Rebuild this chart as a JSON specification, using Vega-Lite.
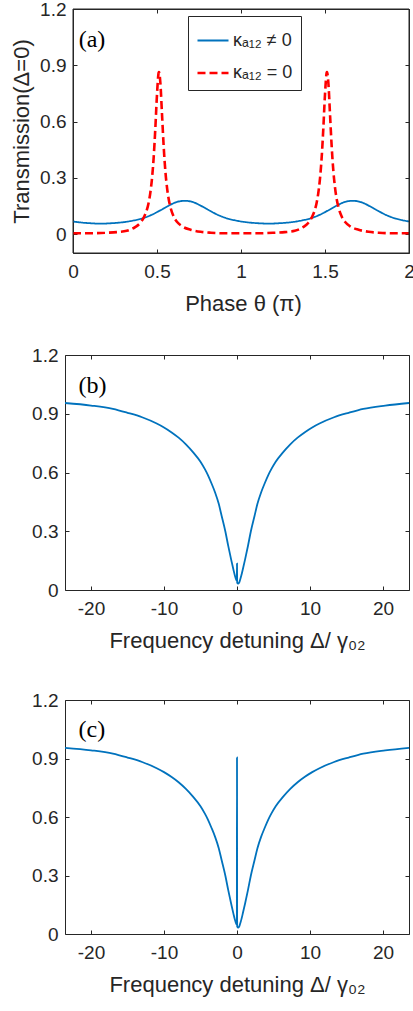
{
  "$schema": "https://vega.github.io/schema/vega-lite/v6.json",
  "padding": {"left": 10, "top": 0, "right": 0, "bottom": 2},
  "background": "white",
  "config": {
    "font": "Liberation Sans",
    "view": {"stroke": "#262626", "strokeWidth": 1},
    "axis": {
      "grid": false, "domain": false, "tickColor": "#262626", "tickSize": -4, "tickWidth": 1,
      "domainColor": "#262626", "domainWidth": 1,
      "labelColor": "#262626", "labelFontSize": 19, "labelFont": "Liberation Sans",
      "titleColor": "#262626", "titleFontSize": 22, "titleFontWeight": "normal", "titleFont": "Liberation Sans",
      "labelFlush": false, "labelOverlap": false, "labelBound": false
    },
    "axisX": {"labelPadding": 13, "titlePadding": 12},
    "axisY": {"labelPadding": 11, "titlePadding": 6}
  },
  "columns": 1,
  "align": "none",
  "spacing": 31,
  "datasets": {
    "a": [
      {"theta": 0.000, "T": 0.068, "series": "κₐ₁₂ ≠ 0"},
      {"theta": 0.065, "T": 0.061, "series": "κₐ₁₂ ≠ 0"},
      {"theta": 0.115, "T": 0.058, "series": "κₐ₁₂ ≠ 0"},
      {"theta": 0.165, "T": 0.056, "series": "κₐ₁₂ ≠ 0"},
      {"theta": 0.215, "T": 0.058, "series": "κₐ₁₂ ≠ 0"},
      {"theta": 0.265, "T": 0.061, "series": "κₐ₁₂ ≠ 0"},
      {"theta": 0.315, "T": 0.066, "series": "κₐ₁₂ ≠ 0"},
      {"theta": 0.365, "T": 0.074, "series": "κₐ₁₂ ≠ 0"},
      {"theta": 0.415, "T": 0.085, "series": "κₐ₁₂ ≠ 0"},
      {"theta": 0.465, "T": 0.102, "series": "κₐ₁₂ ≠ 0"},
      {"theta": 0.515, "T": 0.125, "series": "κₐ₁₂ ≠ 0"},
      {"theta": 0.565, "T": 0.150, "series": "κₐ₁₂ ≠ 0"},
      {"theta": 0.615, "T": 0.171, "series": "κₐ₁₂ ≠ 0"},
      {"theta": 0.665, "T": 0.178, "series": "κₐ₁₂ ≠ 0"},
      {"theta": 0.715, "T": 0.171, "series": "κₐ₁₂ ≠ 0"},
      {"theta": 0.765, "T": 0.150, "series": "κₐ₁₂ ≠ 0"},
      {"theta": 0.815, "T": 0.125, "series": "κₐ₁₂ ≠ 0"},
      {"theta": 0.865, "T": 0.102, "series": "κₐ₁₂ ≠ 0"},
      {"theta": 0.915, "T": 0.085, "series": "κₐ₁₂ ≠ 0"},
      {"theta": 0.965, "T": 0.074, "series": "κₐ₁₂ ≠ 0"},
      {"theta": 1.015, "T": 0.066, "series": "κₐ₁₂ ≠ 0"},
      {"theta": 1.065, "T": 0.061, "series": "κₐ₁₂ ≠ 0"},
      {"theta": 1.115, "T": 0.058, "series": "κₐ₁₂ ≠ 0"},
      {"theta": 1.165, "T": 0.056, "series": "κₐ₁₂ ≠ 0"},
      {"theta": 1.215, "T": 0.058, "series": "κₐ₁₂ ≠ 0"},
      {"theta": 1.265, "T": 0.061, "series": "κₐ₁₂ ≠ 0"},
      {"theta": 1.315, "T": 0.066, "series": "κₐ₁₂ ≠ 0"},
      {"theta": 1.365, "T": 0.074, "series": "κₐ₁₂ ≠ 0"},
      {"theta": 1.415, "T": 0.085, "series": "κₐ₁₂ ≠ 0"},
      {"theta": 1.465, "T": 0.102, "series": "κₐ₁₂ ≠ 0"},
      {"theta": 1.515, "T": 0.125, "series": "κₐ₁₂ ≠ 0"},
      {"theta": 1.565, "T": 0.150, "series": "κₐ₁₂ ≠ 0"},
      {"theta": 1.615, "T": 0.171, "series": "κₐ₁₂ ≠ 0"},
      {"theta": 1.665, "T": 0.178, "series": "κₐ₁₂ ≠ 0"},
      {"theta": 1.715, "T": 0.171, "series": "κₐ₁₂ ≠ 0"},
      {"theta": 1.765, "T": 0.150, "series": "κₐ₁₂ ≠ 0"},
      {"theta": 1.815, "T": 0.125, "series": "κₐ₁₂ ≠ 0"},
      {"theta": 1.865, "T": 0.102, "series": "κₐ₁₂ ≠ 0"},
      {"theta": 1.915, "T": 0.085, "series": "κₐ₁₂ ≠ 0"},
      {"theta": 1.965, "T": 0.074, "series": "κₐ₁₂ ≠ 0"},
      {"theta": 2.000, "T": 0.068, "series": "κₐ₁₂ ≠ 0"},
      {"theta": 0.00, "T": 0.005, "series": "κₐ₁₂ = 0"},
      {"theta": 0.10, "T": 0.005, "series": "κₐ₁₂ = 0"},
      {"theta": 0.20, "T": 0.008, "series": "κₐ₁₂ = 0"},
      {"theta": 0.26, "T": 0.011, "series": "κₐ₁₂ = 0"},
      {"theta": 0.32, "T": 0.018, "series": "κₐ₁₂ = 0"},
      {"theta": 0.37, "T": 0.038, "series": "κₐ₁₂ = 0"},
      {"theta": 0.40, "T": 0.060, "series": "κₐ₁₂ = 0"},
      {"theta": 0.42, "T": 0.087, "series": "κₐ₁₂ = 0"},
      {"theta": 0.44, "T": 0.131, "series": "κₐ₁₂ = 0"},
      {"theta": 0.45, "T": 0.167, "series": "κₐ₁₂ = 0"},
      {"theta": 0.46, "T": 0.219, "series": "κₐ₁₂ = 0"},
      {"theta": 0.47, "T": 0.295, "series": "κₐ₁₂ = 0"},
      {"theta": 0.48, "T": 0.406, "series": "κₐ₁₂ = 0"},
      {"theta": 0.49, "T": 0.563, "series": "κₐ₁₂ = 0"},
      {"theta": 0.50, "T": 0.745, "series": "κₐ₁₂ = 0"},
      {"theta": 0.51, "T": 0.861, "series": "κₐ₁₂ = 0"},
      {"theta": 0.512, "T": 0.864, "series": "κₐ₁₂ = 0"},
      {"theta": 0.52, "T": 0.807, "series": "κₐ₁₂ = 0"},
      {"theta": 0.53, "T": 0.636, "series": "κₐ₁₂ = 0"},
      {"theta": 0.54, "T": 0.464, "series": "κₐ₁₂ = 0"},
      {"theta": 0.55, "T": 0.334, "series": "κₐ₁₂ = 0"},
      {"theta": 0.56, "T": 0.246, "series": "κₐ₁₂ = 0"},
      {"theta": 0.57, "T": 0.185, "series": "κₐ₁₂ = 0"},
      {"theta": 0.58, "T": 0.144, "series": "κₐ₁₂ = 0"},
      {"theta": 0.60, "T": 0.093, "series": "κₐ₁₂ = 0"},
      {"theta": 0.62, "T": 0.065, "series": "κₐ₁₂ = 0"},
      {"theta": 0.65, "T": 0.042, "series": "κₐ₁₂ = 0"},
      {"theta": 0.70, "T": 0.024, "series": "κₐ₁₂ = 0"},
      {"theta": 0.76, "T": 0.013, "series": "κₐ₁₂ = 0"},
      {"theta": 0.82, "T": 0.008, "series": "κₐ₁₂ = 0"},
      {"theta": 0.90, "T": 0.005, "series": "κₐ₁₂ = 0"},
      {"theta": 1.00, "T": 0.005, "series": "κₐ₁₂ = 0"},
      {"theta": 1.10, "T": 0.005, "series": "κₐ₁₂ = 0"},
      {"theta": 1.20, "T": 0.008, "series": "κₐ₁₂ = 0"},
      {"theta": 1.26, "T": 0.011, "series": "κₐ₁₂ = 0"},
      {"theta": 1.32, "T": 0.018, "series": "κₐ₁₂ = 0"},
      {"theta": 1.37, "T": 0.038, "series": "κₐ₁₂ = 0"},
      {"theta": 1.40, "T": 0.060, "series": "κₐ₁₂ = 0"},
      {"theta": 1.42, "T": 0.087, "series": "κₐ₁₂ = 0"},
      {"theta": 1.44, "T": 0.131, "series": "κₐ₁₂ = 0"},
      {"theta": 1.45, "T": 0.167, "series": "κₐ₁₂ = 0"},
      {"theta": 1.46, "T": 0.219, "series": "κₐ₁₂ = 0"},
      {"theta": 1.47, "T": 0.295, "series": "κₐ₁₂ = 0"},
      {"theta": 1.48, "T": 0.406, "series": "κₐ₁₂ = 0"},
      {"theta": 1.49, "T": 0.563, "series": "κₐ₁₂ = 0"},
      {"theta": 1.50, "T": 0.745, "series": "κₐ₁₂ = 0"},
      {"theta": 1.51, "T": 0.861, "series": "κₐ₁₂ = 0"},
      {"theta": 1.512, "T": 0.864, "series": "κₐ₁₂ = 0"},
      {"theta": 1.52, "T": 0.807, "series": "κₐ₁₂ = 0"},
      {"theta": 1.53, "T": 0.636, "series": "κₐ₁₂ = 0"},
      {"theta": 1.54, "T": 0.464, "series": "κₐ₁₂ = 0"},
      {"theta": 1.55, "T": 0.334, "series": "κₐ₁₂ = 0"},
      {"theta": 1.56, "T": 0.246, "series": "κₐ₁₂ = 0"},
      {"theta": 1.57, "T": 0.185, "series": "κₐ₁₂ = 0"},
      {"theta": 1.58, "T": 0.144, "series": "κₐ₁₂ = 0"},
      {"theta": 1.60, "T": 0.093, "series": "κₐ₁₂ = 0"},
      {"theta": 1.62, "T": 0.065, "series": "κₐ₁₂ = 0"},
      {"theta": 1.65, "T": 0.042, "series": "κₐ₁₂ = 0"},
      {"theta": 1.70, "T": 0.024, "series": "κₐ₁₂ = 0"},
      {"theta": 1.76, "T": 0.013, "series": "κₐ₁₂ = 0"},
      {"theta": 1.82, "T": 0.008, "series": "κₐ₁₂ = 0"},
      {"theta": 1.90, "T": 0.005, "series": "κₐ₁₂ = 0"},
      {"theta": 2.00, "T": 0.005, "series": "κₐ₁₂ = 0"}
    ],
    "frame": [
      {"theta": 0, "theta2": 2, "T": -0.1, "T2": -0.1},
      {"theta": 0, "theta2": 2, "T": 1.2, "T2": 1.2},
      {"theta": 0, "theta2": 0, "T": -0.1, "T2": 1.2},
      {"theta": 2, "theta2": 2, "T": -0.1, "T2": 1.2}
    ],
    "b": [
      {"d": -23.56, "T": 0.955}, {"d": -20, "T": 0.942}, {"d": -17, "T": 0.925}, {"d": -15, "T": 0.905},
      {"d": -13, "T": 0.882}, {"d": -11, "T": 0.850}, {"d": -10, "T": 0.830}, {"d": -9, "T": 0.806},
      {"d": -8, "T": 0.778}, {"d": -7, "T": 0.744}, {"d": -6, "T": 0.703}, {"d": -5, "T": 0.655},
      {"d": -4.4, "T": 0.617}, {"d": -4, "T": 0.588}, {"d": -3.5, "T": 0.545}, {"d": -3, "T": 0.498},
      {"d": -2.5, "T": 0.440}, {"d": -2.1, "T": 0.378}, {"d": -1.6, "T": 0.300}, {"d": -1.2, "T": 0.225},
      {"d": -0.8, "T": 0.155}, {"d": -0.5, "T": 0.106}, {"d": -0.3, "T": 0.075}, {"d": -0.1, "T": 0.052},
      {"d": -0.02, "T": 0.048}, {"d": 0, "T": 0.135}, {"d": 0.02, "T": 0.040}, {"d": 0.1, "T": 0.034},
      {"d": 0.2, "T": 0.033}, {"d": 0.3, "T": 0.038}, {"d": 0.45, "T": 0.055}, {"d": 0.6, "T": 0.075},
      {"d": 0.8, "T": 0.106}, {"d": 1.1, "T": 0.155}, {"d": 1.5, "T": 0.225}, {"d": 1.9, "T": 0.300},
      {"d": 2.4, "T": 0.378}, {"d": 2.8, "T": 0.440}, {"d": 3.3, "T": 0.498}, {"d": 3.8, "T": 0.545},
      {"d": 4.3, "T": 0.588}, {"d": 4.7, "T": 0.617}, {"d": 5.3, "T": 0.655}, {"d": 6.3, "T": 0.703},
      {"d": 7.3, "T": 0.744}, {"d": 8.3, "T": 0.778}, {"d": 9.3, "T": 0.806}, {"d": 10.3, "T": 0.830},
      {"d": 11.3, "T": 0.850}, {"d": 13.3, "T": 0.882}, {"d": 15.3, "T": 0.905}, {"d": 17.3, "T": 0.925},
      {"d": 20.3, "T": 0.942}, {"d": 23.56, "T": 0.955}
    ],
    "c": [
      {"d": -23.56, "T": 0.955}, {"d": -20, "T": 0.942}, {"d": -17, "T": 0.925}, {"d": -15, "T": 0.905},
      {"d": -13, "T": 0.882}, {"d": -11, "T": 0.850}, {"d": -10, "T": 0.830}, {"d": -9, "T": 0.806},
      {"d": -8, "T": 0.778}, {"d": -7, "T": 0.744}, {"d": -6, "T": 0.703}, {"d": -5, "T": 0.655},
      {"d": -4.4, "T": 0.617}, {"d": -4, "T": 0.588}, {"d": -3.5, "T": 0.545}, {"d": -3, "T": 0.498},
      {"d": -2.5, "T": 0.440}, {"d": -2.1, "T": 0.378}, {"d": -1.6, "T": 0.300}, {"d": -1.2, "T": 0.225},
      {"d": -0.8, "T": 0.155}, {"d": -0.5, "T": 0.106}, {"d": -0.3, "T": 0.075}, {"d": -0.1, "T": 0.052},
      {"d": -0.02, "T": 0.048}, {"d": 0, "T": 0.905}, {"d": 0.02, "T": 0.040}, {"d": 0.1, "T": 0.034},
      {"d": 0.2, "T": 0.033}, {"d": 0.3, "T": 0.038}, {"d": 0.45, "T": 0.055}, {"d": 0.6, "T": 0.075},
      {"d": 0.8, "T": 0.106}, {"d": 1.1, "T": 0.155}, {"d": 1.5, "T": 0.225}, {"d": 1.9, "T": 0.300},
      {"d": 2.4, "T": 0.378}, {"d": 2.8, "T": 0.440}, {"d": 3.3, "T": 0.498}, {"d": 3.8, "T": 0.545},
      {"d": 4.3, "T": 0.588}, {"d": 4.7, "T": 0.617}, {"d": 5.3, "T": 0.655}, {"d": 6.3, "T": 0.703},
      {"d": 7.3, "T": 0.744}, {"d": 8.3, "T": 0.778}, {"d": 9.3, "T": 0.806}, {"d": 10.3, "T": 0.830},
      {"d": 11.3, "T": 0.850}, {"d": 13.3, "T": 0.882}, {"d": 15.3, "T": 0.905}, {"d": 17.3, "T": 0.925},
      {"d": 20.3, "T": 0.942}, {"d": 23.56, "T": 0.955}
    ]
  },
  "concat": [
    {
      "width": 344, "height": 244,
      "view": {"stroke": null},
      "resolve": {"axis": {"x": "independent", "y": "independent"}},
      "layer": [
        {
          "data": {"name": "a"},
          "mark": {"type": "line", "interpolate": "monotone", "clip": true},
          "encoding": {
            "x": {"field": "theta", "type": "quantitative", "scale": {"domain": [0, 2], "range": [8, 344], "nice": false, "zero": false},
                  "axis": {"values": [0, 0.5, 1, 1.5, 2], "format": "~g", "title": "Phase θ (π)", "titleX": 178, "domain": true}},
            "y": {"field": "T", "type": "quantitative", "scale": {"domain": [-0.1, 1.2], "nice": false, "zero": false},
                  "axis": {"values": [0, 0.3, 0.6, 0.9, 1.2], "format": "~g", "title": "Transmission(Δ=0)", "offset": -8, "domain": true}},
            "color": {"field": "series", "type": "nominal",
                      "scale": {"domain": ["κₐ₁₂ ≠ 0", "κₐ₁₂ = 0"], "range": ["#0072BD", "#FF0000"]},
                      "legend": {"orient": "none", "legendX": 123, "legendY": 7, "title": null,
                                 "symbolType": "stroke", "symbolSize": 961, "symbolStrokeWidth": 2,
                                 "labelFontSize": 18, "labelColor": "#262626", "labelOffset": 3,
                                 "padding": 8, "rowPadding": 6, "strokeColor": "#262626", "fillColor": "white"}},
            "strokeDash": {"field": "series", "type": "nominal",
                           "scale": {"domain": ["κₐ₁₂ ≠ 0", "κₐ₁₂ = 0"], "range": [[1, 0], [8, 4]]}},
            "strokeWidth": {"field": "series", "type": "nominal",
                            "scale": {"domain": ["κₐ₁₂ ≠ 0", "κₐ₁₂ = 0"], "range": [1.8, 2.6]}, "legend": null}
          }
        },
        {
          "data": {"name": "frame"},
          "mark": {"type": "rule", "color": "#262626", "strokeWidth": 1},
          "encoding": {
            "x": {"field": "theta", "type": "quantitative", "scale": {"domain": [0, 2], "range": [8, 344], "nice": false, "zero": false}, "axis": null},
            "x2": {"field": "theta2"},
            "y": {"field": "T", "type": "quantitative", "scale": {"domain": [-0.1, 1.2], "nice": false, "zero": false}, "axis": null},
            "y2": {"field": "T2"}
          }
        },
        {
          "data": {"name": "a"},
          "mark": {"type": "line", "strokeOpacity": 0},
          "encoding": {
            "x": {"field": "theta", "type": "quantitative", "scale": {"domain": [0, 2], "range": [8, 344], "nice": false, "zero": false},
                  "axis": {"orient": "top", "values": [0, 0.5, 1, 1.5, 2], "labels": false, "title": null, "domain": true}},
            "y": {"field": "T", "type": "quantitative", "scale": {"domain": [-0.1, 1.2], "nice": false, "zero": false},
                  "axis": {"orient": "right", "values": [0, 0.3, 0.6, 0.9, 1.2], "labels": false, "title": null, "domain": true}}
          }
        },
        {
          "data": {"values": [{"theta": 0.034, "T": 0.995, "label": "(a)"}]},
          "mark": {"type": "text", "font": "Liberation Serif", "fontSize": 24, "align": "left", "baseline": "alphabetic", "color": "#000000"},
          "encoding": {
            "x": {"field": "theta", "type": "quantitative", "scale": {"domain": [0, 2], "range": [8, 344], "nice": false, "zero": false}, "axis": null},
            "y": {"field": "T", "type": "quantitative", "scale": {"domain": [-0.1, 1.2], "nice": false, "zero": false}, "axis": null},
            "text": {"field": "label"}
          }
        }
      ]
    },
    {
      "spacing": 38,
      "vconcat": [
        {
          "width": 344, "height": 235,
          "resolve": {"axis": {"x": "independent", "y": "independent"}},
          "layer": [
            {
              "data": {"name": "b"},
              "mark": {"type": "line", "interpolate": "monotone", "color": "#0072BD", "strokeWidth": 1.8, "clip": true},
              "encoding": {
                "x": {"field": "d", "type": "quantitative", "scale": {"domain": [-23.56, 23.56], "nice": false, "zero": false},
                      "axis": {"values": [-20, -10, 0, 10, 20], "labelExpr": "toString(datum.value)", "title": "Frequency detuning Δ/ γ₀₂"}},
                "y": {"field": "T", "type": "quantitative", "scale": {"domain": [0, 1.2], "nice": false, "zero": false},
                      "axis": {"values": [0, 0.3, 0.6, 0.9, 1.2], "format": "~g", "title": null}}
              }
            },
            {
              "data": {"name": "b"},
              "mark": {"type": "line", "strokeOpacity": 0},
              "encoding": {
                "x": {"field": "d", "type": "quantitative", "scale": {"domain": [-23.56, 23.56], "nice": false, "zero": false},
                      "axis": {"orient": "top", "values": [-20, -10, 0, 10, 20], "labels": false, "title": null}},
                "y": {"field": "T", "type": "quantitative", "scale": {"domain": [0, 1.2], "nice": false, "zero": false},
                      "axis": {"orient": "right", "values": [0, 0.3, 0.6, 0.9, 1.2], "labels": false, "title": null}}
              }
            },
            {
              "data": {"values": [{"d": -21.7, "T": 1.006, "label": "(b)"}]},
              "mark": {"type": "text", "font": "Liberation Serif", "fontSize": 24, "align": "left", "baseline": "alphabetic", "color": "#000000"},
              "encoding": {
                "x": {"field": "d", "type": "quantitative", "scale": {"domain": [-23.56, 23.56], "nice": false, "zero": false}, "axis": null},
                "y": {"field": "T", "type": "quantitative", "scale": {"domain": [0, 1.2], "nice": false, "zero": false}, "axis": null},
                "text": {"field": "label"}
              }
            }
          ]
        },
        {
          "width": 344, "height": 234,
          "resolve": {"axis": {"x": "independent", "y": "independent"}},
          "layer": [
            {
              "data": {"name": "c"},
              "mark": {"type": "line", "interpolate": "monotone", "color": "#0072BD", "strokeWidth": 1.8, "clip": true},
              "encoding": {
                "x": {"field": "d", "type": "quantitative", "scale": {"domain": [-23.56, 23.56], "nice": false, "zero": false},
                      "axis": {"values": [-20, -10, 0, 10, 20], "labelExpr": "toString(datum.value)", "title": "Frequency detuning Δ/ γ₀₂"}},
                "y": {"field": "T", "type": "quantitative", "scale": {"domain": [0, 1.2], "nice": false, "zero": false},
                      "axis": {"values": [0, 0.3, 0.6, 0.9, 1.2], "format": "~g", "title": null}}
              }
            },
            {
              "data": {"name": "c"},
              "mark": {"type": "line", "strokeOpacity": 0},
              "encoding": {
                "x": {"field": "d", "type": "quantitative", "scale": {"domain": [-23.56, 23.56], "nice": false, "zero": false},
                      "axis": {"orient": "top", "values": [-20, -10, 0, 10, 20], "labels": false, "title": null}},
                "y": {"field": "T", "type": "quantitative", "scale": {"domain": [0, 1.2], "nice": false, "zero": false},
                      "axis": {"orient": "right", "values": [0, 0.3, 0.6, 0.9, 1.2], "labels": false, "title": null}}
              }
            },
            {
              "data": {"values": [{"d": -21.7, "T": 1.009, "label": "(c)"}]},
              "mark": {"type": "text", "font": "Liberation Serif", "fontSize": 24, "align": "left", "baseline": "alphabetic", "color": "#000000"},
              "encoding": {
                "x": {"field": "d", "type": "quantitative", "scale": {"domain": [-23.56, 23.56], "nice": false, "zero": false}, "axis": null},
                "y": {"field": "T", "type": "quantitative", "scale": {"domain": [0, 1.2], "nice": false, "zero": false}, "axis": null},
                "text": {"field": "label"}
              }
            }
          ]
        }
      ]
    }
  ]
}
